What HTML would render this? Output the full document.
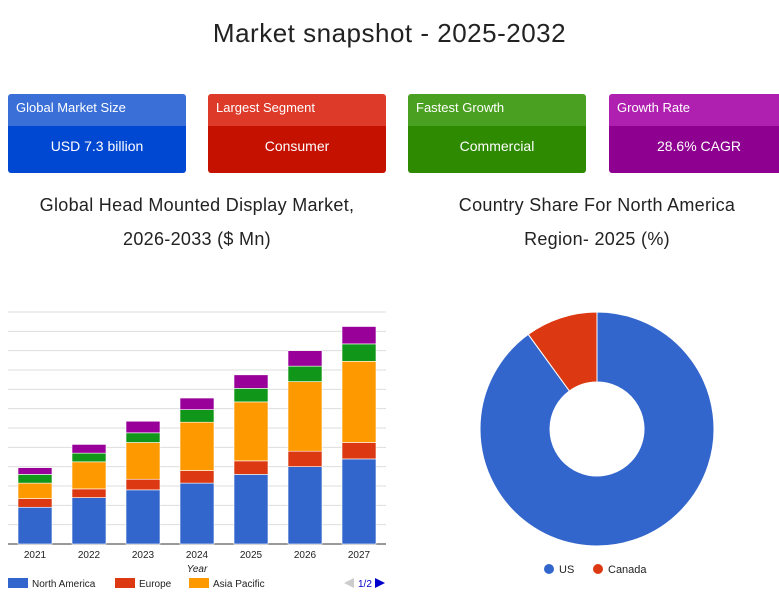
<!DOCTYPE html>
<html><head><meta charset="utf-8"><style>
body{margin:0;width:779px;height:607px;background:#fff;font-family:"Liberation Sans",sans-serif;overflow:hidden;position:relative}
.t{position:absolute;left:0;width:779px;text-align:center;top:18px;font-size:26px;color:#222;letter-spacing:0.5px}
.card{position:absolute;top:94px;width:178px;height:79px;border-radius:3px;overflow:hidden;color:#fff}
.card .h{height:32px;line-height:28px;font-size:13px;padding-left:8px}
.card .b{height:47px;line-height:40px;font-size:14px;text-align:center}
.sub{position:absolute;font-size:18px;color:#222;text-align:center;line-height:34px;letter-spacing:0.3px}
</style></head><body>
<div class="t">Market snapshot - 2025-2032</div>
<div class="card" style="left:8px"><div class="h" style="background:#3a6fd8">Global Market Size</div><div class="b" style="background:#0047d1">USD 7.3 billion</div></div>
<div class="card" style="left:208px"><div class="h" style="background:#dd3a2a">Largest Segment</div><div class="b" style="background:#c51200">Consumer</div></div>
<div class="card" style="left:408px"><div class="h" style="background:#4aa020">Fastest Growth</div><div class="b" style="background:#2e8a00">Commercial</div></div>
<div class="card" style="left:609px;width:180px"><div class="h" style="background:#b020b0">Growth Rate</div><div class="b" style="background:#8e0090">28.6% CAGR</div></div>
<div class="sub" style="left:0;width:394px;top:188px">Global Head Mounted Display Market,<br>2026-2033 ($ Mn)</div>
<div class="sub" style="left:400px;width:394px;top:188px">Country Share For North America<br>Region- 2025 (%)</div>
<svg id="bar" width="400" height="607" style="position:absolute;left:0;top:0"></svg>
<svg id="pie" width="380" height="607" style="position:absolute;left:400px;top:0"></svg>
<script>
const years=["2021","2022","2023","2024","2025","2026","2027"];
const northAmerica=[38,48,56,63,72,80,88];
const europe=[9,9,11,13,14,16,17];
const asiaPacific=[16,28,38,50,61,72,84];
const middleEast=[9,9,10,13,14,16,18];
const latinAmerica=[7,9,12,12,14,16,18];
const yTicks=[0,20,40,60,80,100,120,140,160,180,200,220,240];
const NS="http://www.w3.org/2000/svg";
function mk(p,t,a){const e=document.createElementNS(NS,t);for(const k in a)e.setAttribute(k,a[k]);p.appendChild(e);return e;}
const bar=document.getElementById('bar');
const base=544,top0=312,yMax=240;
const y=v=>base-v*(base-top0)/yMax;
const x=i=>35+i*54;
yTicks.forEach(t=>{const l=mk(bar,'line',{x1:8,x2:386,y1:y(t),y2:y(t),stroke:t===0?'#333':'#ddd','stroke-width':1});

});
const series=[[northAmerica,'#3366cc','north-america'],[europe,'#dc3912','europe'],[asiaPacific,'#ff9900','asia-pacific'],[middleEast,'#109618','middle-east'],[latinAmerica,'#990099','latin-america']];
years.forEach((yr,i)=>{let acc=0;series.forEach(([arr,c,n])=>{const v=arr[i];const r=mk(bar,'rect',{x:x(i)-17,width:34,y:y(acc+v),height:y(acc)-y(acc+v),fill:c,stroke:'#fff','stroke-width':0.6});


acc+=v;});
const t=mk(bar,'text',{x:x(i),y:558,'text-anchor':'middle','font-size':10,fill:'#222'});t.textContent=yr;

});
const xt=mk(bar,'text',{x:197,y:572,'text-anchor':'middle','font-size':10,'font-style':'italic',fill:'#222'});xt.textContent='Year';


[['North America','#3366cc',8],['Europe','#dc3912',115],['Asia Pacific','#ff9900',189]].forEach(([n,c,lx])=>{const r=mk(bar,'rect',{x:lx,y:578,width:20,height:10,fill:c});


const t=mk(bar,'text',{x:lx+24,y:587,'font-size':10,fill:'#222'});t.textContent=n;

});
const pg=mk(bar,'polygon',{points:'344,583 354,578 354,588',fill:'#ccc'});


const pt=mk(bar,'text',{x:358,y:587,'font-size':10,fill:'#0000cc'});pt.textContent='1/2';


const pn=mk(bar,'polygon',{points:'375,578 385,583 375,588',fill:'#0000cc'});


const countries=["US","Canada"];
const shares=[90,10];
const colors=['#3366cc','#dc3912'];
const pie=document.getElementById('pie');
const cx=197,cy=429,R=117,r0=47;
const tot=shares.reduce((a,b)=>a+b,0);let a0=0;
shares.forEach((s,i)=>{const a1=a0+s/tot*2*Math.PI;const p=(a,rr)=>[cx+rr*Math.sin(a),cy-rr*Math.cos(a)];
const [x1,y1]=p(a0,R),[x2,y2]=p(a1,R),[x3,y3]=p(a1,r0),[x4,y4]=p(a0,r0);const lg=(a1-a0)>Math.PI?1:0;
const e=mk(pie,'path',{d:`M${x1},${y1}A${R},${R} 0 ${lg} 1 ${x2},${y2}L${x3},${y3}A${r0},${r0} 0 ${lg} 0 ${x4},${y4}Z`,fill:colors[i],stroke:'#fff','stroke-width':1});


a0=a1;});
[[149,0],[198,1]].forEach(([lx,i])=>{const c=mk(pie,'circle',{cx:lx,cy:569,r:5,fill:colors[i]});


const t=mk(pie,'text',{x:lx+10,y:573,'font-size':11,fill:'#222'});t.textContent=countries[i];

});
</script>
</body></html>
